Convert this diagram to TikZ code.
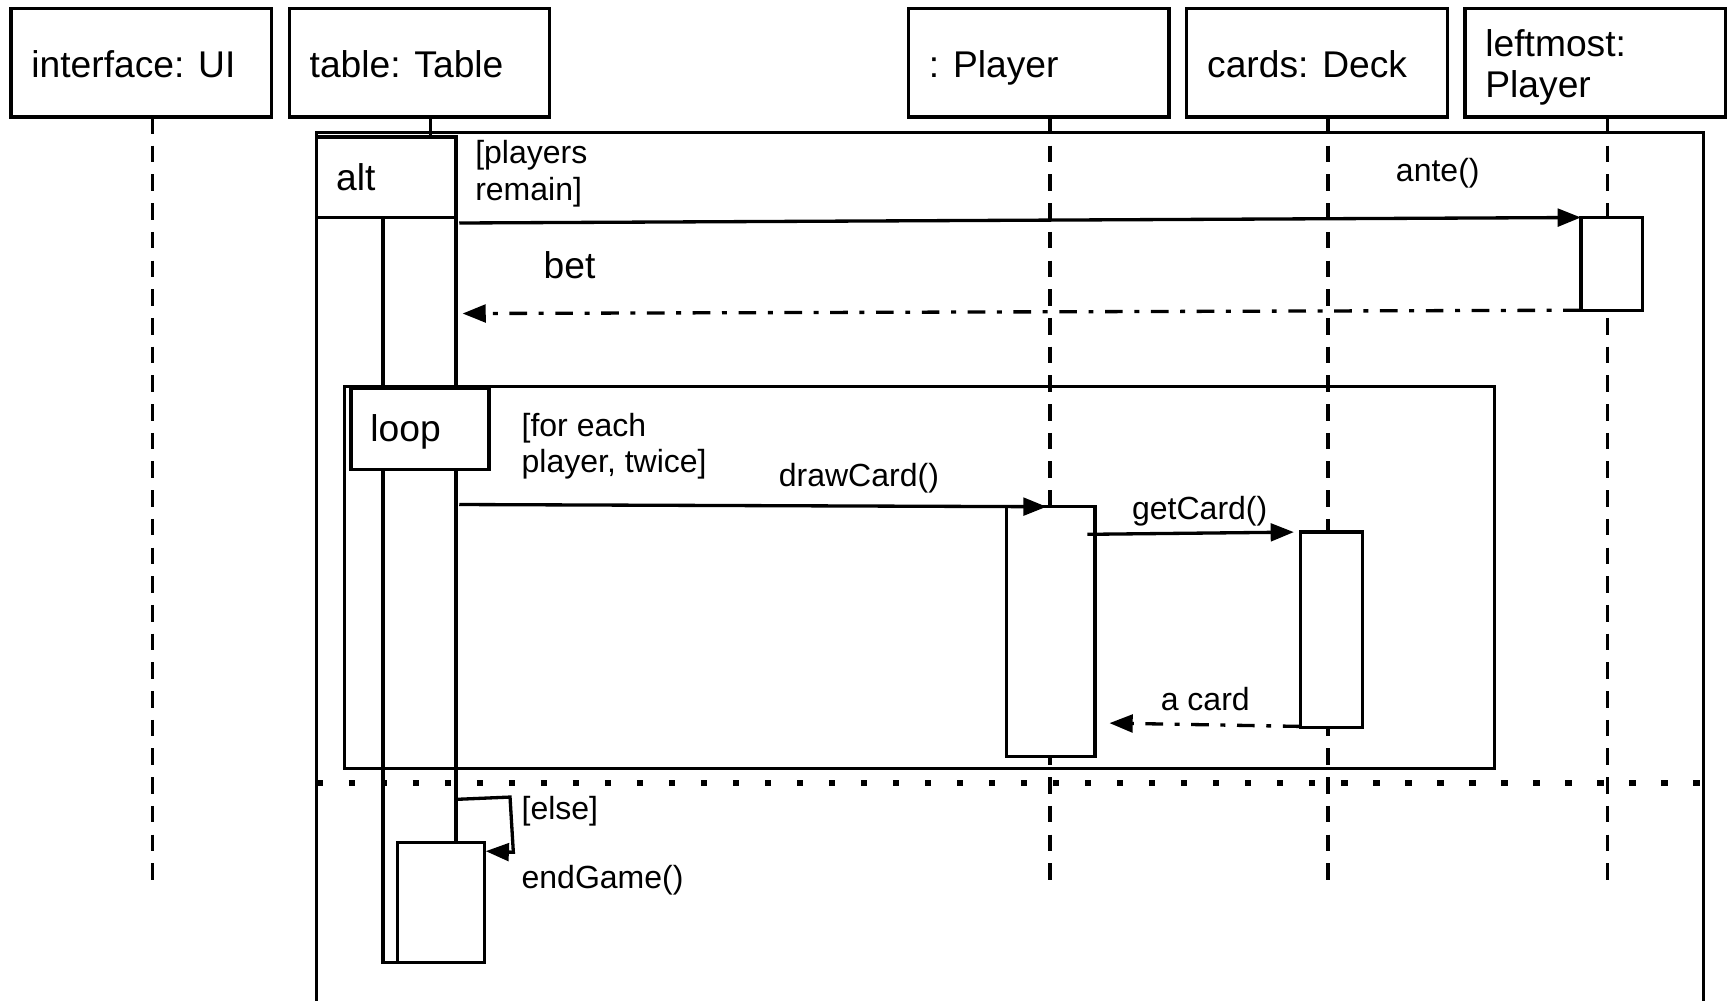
\documentclass[tikz,border=0pt]{standalone}
\usepackage{fontspec}
\setmainfont{Liberation Sans}
\usetikzlibrary{arrows.meta}
\begin{document}
\begin{tikzpicture}[x=1pt,y=-1pt,line width=3pt,
  box/.style={draw,fill=white,rectangle,inner sep=0pt,outer sep=0pt,anchor=north west},
  head/.style={box,minimum width=236pt,minimum height=98pt},
  big/.style={font=\fontsize{33.7}{37}\selectfont,inner sep=0pt,anchor=base west},
  small/.style={font=\fontsize{29}{33}\selectfont,inner sep=0pt,anchor=base west},
  lifeline/.style={dash pattern=on 15pt off 11pt},
  msg/.style={-{Triangle[length=21pt,width=16pt]}},
  ret/.style={dash pattern=on 16pt off 10.5pt on 4.5pt off 10.5pt,-{Triangle[length=21pt,width=16pt]}},
  sep/.style={line width=5.6pt,dash pattern=on 5.6pt off 23.4pt}
]
\useasboundingbox (0,0) rectangle (1568,906);
\clip (0,0) rectangle (1568,906);

% heads
\node[head] (ui) at (10,8) {};
\node[head] (tbl) at (262,8) {};
\node[head] (pl) at (823,8) {};
\node[head] (dk) at (1075,8) {};
\node[head] (lm) at (1327,8) {};
\node[big] (uiT) at (27,70) {interface: UI};
\node[big] (tblT) at (279,70) {table: Table};
\node[big] (plT) at (840,70) {: Player};
\node[big] (dkT) at (1092,70) {cards: Deck};
\node[big] (lmT1) at (1344,51) {leftmost:};
\node[big] (lmT2) at (1344,88) {Player};

% lifeline ends
\coordinate (uiE) at (138,800);
\coordinate (tblE) at (390,124);
\coordinate (plE) at (951,800);
\coordinate (dkE) at (1203,800);
\coordinate (lmE) at (1456,800);
\draw[lifeline] (uiE |- ui.south) -- (uiE);
\draw (tblE |- tbl.south) -- (tblE);
\draw[lifeline] (plE |- pl.south) -- (plE);
\draw[lifeline] (dkE |- dk.south) -- (dkE);
\draw[lifeline] (lmE |- lm.south) -- (lmE);

% alt frame
\draw (287,912) -- (287,120) -- (1543,120) -- (1543,912);

% table activation
\node[box,minimum width=66pt,minimum height=675pt] (tact) at (347,197) {};
% alt tag
\node[box,minimum width=126pt,minimum height=73pt] (altTag) at (287,124) {};
\node[big] (altT) at (303,172.5) {alt};
\node[small] (guard1a) at (429,148) {[players};
\node[small] (guard1b) at (429,182) {remain]};

% leftmost activation
\node[box,minimum width=56pt,minimum height=84pt] (lact) at (1432,197) {};

% loop frame
\draw (312,350) rectangle (1354,696);
\node[box,minimum width=125pt,minimum height=73pt] (loopTag) at (318,352) {};
\node[big] (loopT) at (334,400) {loop};
\node[small] (guard2a) at (471,395.5) {[for each};
\node[small] (guard2b) at (471,428) {player, twice]};

% player and deck activations
\node[box,minimum width=80pt,minimum height=226pt] (pact) at (912,459) {};
\node[box,minimum width=56pt,minimum height=177pt] (dact) at (1178,482) {};

% separator
\draw[sep] (287,709) -- (1543,709);

% endGame activation
\node[box,minimum width=79pt,minimum height=109pt] (eact) at (360,763) {};

% messages
\coordinate (anteS) at (416,202);
\draw[msg] (anteS) -- (lact.north west);
\node[small] (anteT) at (1263,164) {ante()};

\coordinate (betS) at (1432,281);
\coordinate (betE) at (419,284);
\draw[ret] (betS) -- (betE);
\node[big] (betT) at (491,252) {bet};

\coordinate (drawS) at (416,457);
\coordinate (drawE) at (948,459);
\draw[msg] (drawS) -- (drawE);
\node[small] (drawT) at (704,441) {drawCard()};

\coordinate (getS) at (985,484);
\coordinate (getE) at (1172,482);
\draw[msg] (getS) -- (getE);
\node[small] (getT) at (1024,471) {getCard()};

\coordinate (cardS) at (1178,658);
\coordinate (cardE) at (1005,655);
\draw[ret] (cardS) -- (cardE);
\node[small] (cardT) at (1050,644) {a card};

\coordinate (selfS) at (415,724);
\coordinate (selfE) at (440,771);
\draw[msg] (selfS) -- (462,722) -- (465,772) -- (selfE);
\node[small] (elseT) at (471,742) {[else]};
\node[small] (endT) at (471,805) {endGame()};
\end{tikzpicture}
\end{document}
